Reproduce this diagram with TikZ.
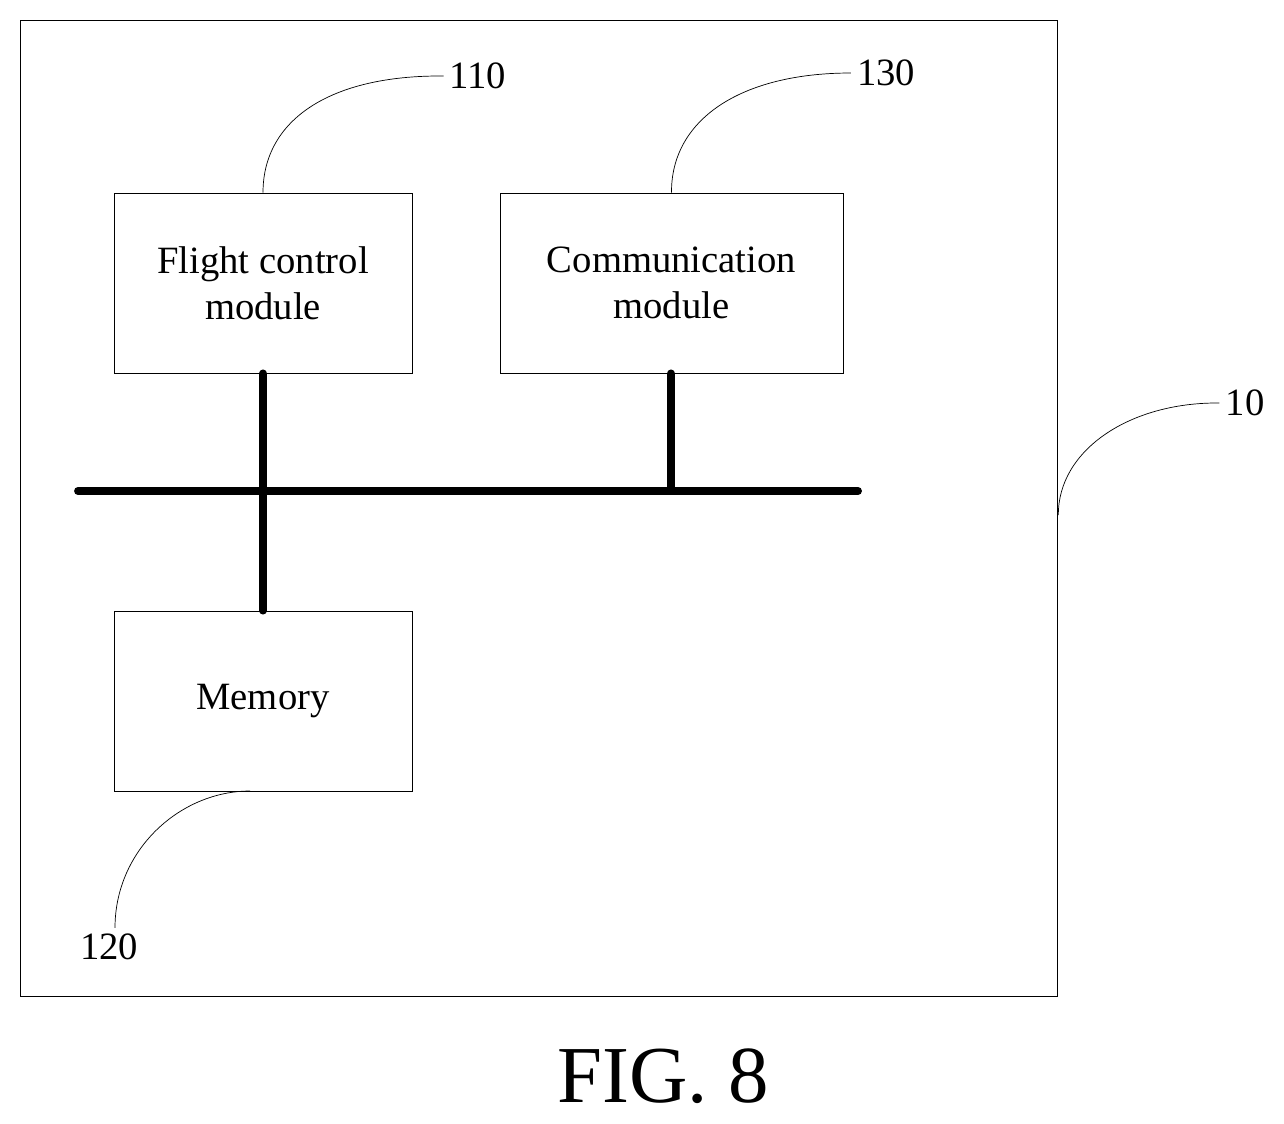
\documentclass[tikz,border=0pt]{standalone}
\usepackage{fontspec}
\setmainfont{Liberation Serif}
\usetikzlibrary{positioning}
\tikzset{
  module/.style={draw, line width=0.5pt, minimum width=5.96cm, minimum height=3.6cm, align=center, font=\fontsize{22}{26}\selectfont},
  bus/.style={line width=4.5pt, line cap=round},
  leader/.style={line width=0.4pt},
  ref/.style={font=\fontsize{22}{26}\selectfont}
}
\begin{document}
\begin{tikzpicture}[x=0.02cm, y=-0.02cm]
  \useasboundingbox (0,0) rectangle (1284,1123);
  \node (dev) [draw, line width=0.5pt, minimum width=20.76cm, minimum height=19.54cm] at (539,508.5) {};
  \node (fc) [module] at (263,283) {Flight control\\module};
  \node (com) [module, minimum width=6.86cm] at (671.5,283) {Communication\\module};
  \node (mem) [module] at (263,701) {Memory};
  % bus
  \coordinate (busL) at (78,491);
  \coordinate (busR) at (858,491);
  \coordinate (busC) at (671,491);
  \draw[bus] (busL) -- (busR);
  \draw[bus] (fc.south) -- (mem.north);
  \draw[bus] (com.south -| busC) -- (busC);
  % reference labels
  \node (l110) [ref] at (478,76) {110};
  \node (l130) [ref] at (886,73) {130};
  \node (l10) [ref] at (1245,403) {10};
  \node (l120) [ref] at (109,947) {120};
  \draw[leader] (fc.north) .. controls (263,120) and (330,75) .. (l110.west);
  \draw[leader] (com.north) .. controls (671,120) and (740,73) .. (l130.west);
  \draw[leader] (dev.east |- 0,515) .. controls (1058,450) and (1130,402) .. (l10.west);
  \draw[leader] (250,791) .. controls (180,791) and (115,850) .. (l120.north -| 115,0);
  \node (fig) [font=\fontsize{46}{50}\selectfont] at (663,1076) {FIG. 8};
\end{tikzpicture}
\end{document}
